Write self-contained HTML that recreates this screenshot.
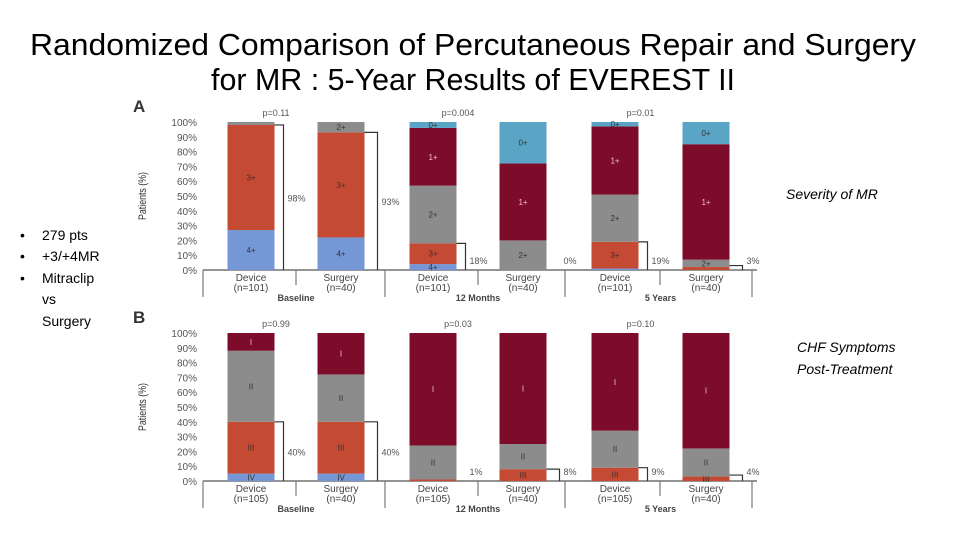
<!DOCTYPE html>
<html><head><meta charset="utf-8">
<style>
html,body{margin:0;padding:0;background:#fff;}
svg{display:block;font-family:"Liberation Sans",sans-serif;}
</style></head>
<body>
<svg id="s" width="960" height="540" viewBox="0 0 960 540">
<text x="473" y="55" text-anchor="middle" font-size="31" textLength="886" lengthAdjust="spacingAndGlyphs" fill="#000">Randomized Comparison of Percutaneous Repair and Surgery</text>
<text x="473" y="90" text-anchor="middle" font-size="31" textLength="524" lengthAdjust="spacingAndGlyphs" fill="#000">for MR : 5-Year Results of EVEREST II</text>
<g font-size="14" fill="#000">
<text x="20" y="240">•</text><text x="42" y="240">279 pts</text>
<text x="20" y="261">•</text><text x="42" y="261">+3/+4MR</text>
<text x="20" y="283">•</text><text x="42" y="283">Mitraclip</text>
<text x="42" y="304">vs</text>
<text x="42" y="326">Surgery</text>
</g>
<text x="786" y="199" font-size="14" font-style="italic">Severity of MR</text>
<text x="797" y="352" font-size="14" font-style="italic">CHF Symptoms</text>
<text x="797" y="374" font-size="14" font-style="italic">Post-Treatment</text>
<g id="charts"></g>
</svg>
<script>
// Panel A data (bottom to top: 4+, 3+, 2+, 1+, 0+)
const catsA = ["Device","Surgery","Device","Surgery","Device","Surgery"];
const nA = ["(n=101)","(n=40)","(n=101)","(n=40)","(n=101)","(n=40)"];
const a4 = [27,22,4,0,1,0];
const a3 = [71,71,14,0,18,2];
const a2 = [2,7,39,20,32,5];
const a1 = [0,0,39,52,46,78];
const a0 = [0,0,4,28,3,15];
const segLabA = ["4+","3+","2+","1+","0+"];
const pA = ["p=0.11","p=0.004","p=0.01"];
const brA = [98,93,18,0,19,3];
// Panel B data (bottom to top: IV, III, II, I)
const nB = ["(n=105)","(n=40)","(n=105)","(n=40)","(n=105)","(n=40)"];
const b4 = [5,5,0,0,0,0];
const b3 = [35,35,1,8,9,3];
const b2 = [48,32,23,17,25,19];
const b1 = [12,28,76,75,66,78];
const segLabB = ["IV","III","II","I"];
const pB = ["p=0.99","p=0.03","p=0.10"];
const brB = [40,40,1,8,9,4];
const groups = ["Baseline","12 Months","5 Years"];
const yTicks = [0,10,20,30,40,50,60,70,80,90,100];

const colsA = ["#7597d6","#c44a33","#8c8c8c","#7d0c2b","#5aa5c5"];
const colsB = ["#7597d6","#c44a33","#8c8c8c","#7d0c2b"];
const NS="http://www.w3.org/2000/svg";
const root=document.getElementById('charts');
function mk(tag,attrs,parent){const e=document.createElementNS(NS,tag);for(const k in attrs)e.setAttribute(k,attrs[k]);(parent||root).appendChild(e);return e;}
const centers=[251,341,433,523,615,706];
const bw=47;

function panel(letter,top,bottom,series,cols,labs,ns,ps,brs,key){
  const y=v=>bottom-(bottom-top)*v/100;
  const g=mk('g',{});
  
  
  const L=mk('text',{x:133,y:top-10,'font-size':17,'font-weight':'bold',fill:'#333'},g);L.textContent=letter;
  
  
  yTicks.forEach(t=>{
    const tx=mk('text',{x:197,y:y(t)+4,'text-anchor':'end','font-size':10,fill:'#555'},g);tx.textContent=t+'%';
    
    
  });
  const yt=mk('text',{transform:`translate(146,${(top+bottom)/2}) rotate(-90) scale(0.8,1)`,'text-anchor':'middle','font-size':11,fill:'#333'},g);yt.textContent='Patients (%)';
  
  
  mk('line',{x1:203,y1:bottom,x2:757,y2:bottom,stroke:'#555','stroke-width':1.2},g);
  [[203,27],[296,15],[385,27],[478,15],[565,27],[660,15],[752,27]].forEach(([x,h])=>mk('line',{x1:x,y1:bottom,x2:x,y2:bottom+h,stroke:'#777','stroke-width':1.2},g));
  centers.forEach((cx,i)=>{
    let acc=0;
    series.forEach((s,k)=>{
      const v=s[i]; if(v<=0) return;
      const r=mk('rect',{x:cx-bw/2,y:y(acc+v),width:bw,height:y(acc)-y(acc+v),fill:cols[k]},g);
      
      
      if(v>=3){const t=mk('text',{x:cx,y:(y(acc)+y(acc+v))/2+3,'text-anchor':'middle','font-size':8,fill:k==3?'#f0c0c8':'#333'},g);t.textContent=labs[k];
        
        }
      acc+=v;
    });
    const c1=mk('text',{x:cx,y:bottom+11,'text-anchor':'middle','font-size':10,fill:'#444'},g);c1.textContent=catsA[i];
    
    
    const c2=mk('text',{x:cx,y:bottom+21,'text-anchor':'middle','font-size':10,fill:'#444'},g);c2.textContent=ns[i];
    
    
    // bracket
    const bv=brs[i];
    const bx=cx+bw/2+3+(i%2?4:0);
    if(bv>=3){mk('path',{d:`M${cx+bw/2},${y(bv)} H${bx+6} V${bottom}`,fill:'none',stroke:'#333','stroke-width':1.2},g);}
    const bt=mk('text',{x:bx+10,y:bv>=25?y(bv/2)+4:bottom-6,'font-size':9,fill:'#555'},g);bt.textContent=bv+'%';
    
    
  });
  groups.forEach((gn,j)=>{
    const gt=mk('text',{x:(centers[2*j]+centers[2*j+1])/2,y:bottom+31,'text-anchor':'middle','font-size':9,'font-weight':'bold',fill:'#444'},g);gt.textContent=gn;
    
    
    const pt=mk('text',{x:(centers[2*j]+centers[2*j+1])/2-20,y:top-6,'text-anchor':'middle','font-size':9,fill:'#555'},g);pt.textContent=ps[j];
    
    
  });
}
panel('A',122,270,[a4,a3,a2,a1,a0],colsA,segLabA,nA,pA,brA,'a');
panel('B',333,481,[b4,b3,b2,b1],colsB,segLabB,nB,pB,brB,'b');
</script>
</body></html>
